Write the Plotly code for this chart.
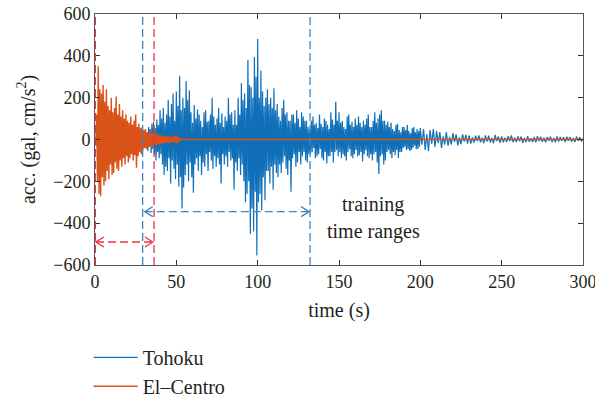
import plotly.graph_objects as go

# ---------------- data ----------------
# Tohoku record in three segments (start time, sample step, signed peak values in gal)
tohoku_a_start, tohoku_a_dt = 0.0, 1.0
tohoku_a_acc = [
    3, -4, 5, -3, 6, -5, 4, -6, 5, -4,
    6, -5, 8, -7, 6, -9, 8, -7, 10, -8,
    12, -10, 14, -12, 18, -15, 20, -22, 25, -20,
]
tohoku_b_start, tohoku_b_dt = 30.0, 0.5
tohoku_b_acc = [
    30, -25, 45, -40, 35, -55, 60, -30, 50, -65, 75, -45, 85, -70, 55, -100, 95, -60, 70, -90,
    140, -70, 100, -120, 150, -170, 80, -130, 120, -150, 190, -90, 110, -210, 170, -100, 220, -140, 90, -190,
    230, -120, 160, -225, 305, -180, 140, -330, 200, -230, 150, -170, 280, -120, 190, -200, 235, -110, 130, -180,
    80, -255, 165, -120, 100, -90, 145, -150, 120, -80, 90, -170, 60, -110, 130, -130, 140, -70, 85, -150,
    90, -60, 120, -100, 200, -140, 110, -80, 70, -130, 100, -90, 150, -120, 80, -210, 125, -70, 60, -120,
    110, -80, 90, -130, 200, -60, 120, -100, 130, -90, 70, -240, 140, -110, 70, -150, 200, -90, 120, -170,
    270, -120, 190, -200, 220, -300, 150, -260, 380, -200, 260, -450, 250, -330, 200, -440, 395, -250, 300, -555,
    480, -300, 200, -260, 330, -340, 230, -180, 160, -290, 200, -150, 240, -150, 170, -210, 200, -130, 150, -240,
    245, -120, 140, -160, 170, -180, 110, -120, 90, -160, 150, -110, 190, -80, 120, -140, 130, -170, 90, -100,
    90, -250, 120, -90, 120, -70, 80, -130, 140, -110, 100, -60, 60, -120, 130, -80, 110, -60, 90, -100,
    90, -110, 60, -70, 50, -70, 90, -60, 110, -40, 70, -90, 80, -80, 55, -70, 120, -45, 75, -90,
    60, -100, 100, -60, 90, -115, 70, -80, 50, -80, 130, -60, 95, -110, 70, -60, 180, -50, 90, -80,
    130, -60, 80, -90, 90, -70, 60, -80, 50, -100, 110, -60, 120, -45, 70, -80, 85, -90, 60, -70,
    100, -50, 70, -80, 110, -75, 80, -60, 60, -105, 90, -70, 70, -50, 100, -80, 120, -90, 60, -70,
    60, -100, 90, -70, 130, -60, 80, -110, 100, -165, 120, -80, 140, -70, 90, -120, 90, -100, 70, -60,
    85, -50, 60, -70, 80, -90, 50, -60, 40, -75, 70, -50, 75, -88, 45, -60, 35, -60, 60, -40,
    60, -35, 45, -50, 70, -45, 40, -55, 30, -50, 55, -40, 60, -30, 35, -45, 50, -45, 40, -35,
]
tohoku_c_start, tohoku_c_dt = 200.0, 1.0
tohoku_c_acc = [
    55, -25, 50, -50, 25, -55, 45, -20, 50, -35,
    40, -18, 35, -40, 15, -25, 35, -30, 12, -25,
    30, -12, 25, -28, 10, -22, 25, -10, 22, -20,
    18, -20, 10, -15, 18, -8, 20, -14, 9, -18,
    20, -10, 18, -14, 8, -18, 22, -8, 14, -16,
    15, -14, 9, -12, 16, -7, 20, -13, 8, -12,
    15, -8, 14, -16, 7, -13, 16, -11, 6, -12,
    12, -14, 16, -7, 13, -11, 8, -13, 12, -6,
    14, -12, 7, -13, 15, -10, 12, -6, 11, -12,
    13, -6, 12, -11, 7, -12, 14, -6, 11, -9,
    5,
]

elcentro_dt = 0.5  # s
elcentro_acc = [
    0, -30, 120, -200, 350, -260, 240, -270, 220, -180,
    260, -220, 180, -200, 240, -150, 160, -190, 140, -120,
    200, -170, 130, -160, 150, -110, 205, -140, 120, -150,
    170, -100, 110, -130, 140, -90, 100, -120, 120, -80,
    90, -110, 80, -90, 110, -70, 70, -100, 90, -75,
    120, -135, 60, -80, 75, -60, 55, -70, 60, -50,
    45, -40, 50, -45, 35, -40, 30, -35, 40, -30,
    30, -35, 35, -25, 25, -30, 28, -22, 20, -25,
    22, -20, 18, -22, 20, -16, 15, -18, 17, -14,
    14, -16, 15, -12, 12, -14, 14, -12, 18, -15,
    20, -18, 12, -10, 8, -6, 4, 0,
]
elcentro_end_time = 300  # record padded with zeros up to here

# training time ranges (s) and arrow heights (gal)
red_range = [0, 36.3]
red_arrow = [0.6, 35.6]
red_arrow_y = -490
blue_range = [29.3, 132.2]
blue_arrow = [30.6, 131.6]
blue_arrow_y = -345

x_ticks = [0, 50, 100, 150, 200, 250, 300]
y_ticks = [-600, -400, -200, 0, 200, 400, 600]
x_range = [0, 300]
y_range = [-600, 600]

# ---------------- figure ----------------
FONT = "Liberation Serif"
TXT = "#231f20"
BLUE = "#0F6FB9"
ORANGE = "#D95319"
RED_DASH = "#EE3340"
BLUE_DASH = "#3A88CC"

tohoku_t, tohoku_y = [], []
for start, dt, acc in ((tohoku_a_start, tohoku_a_dt, tohoku_a_acc),
                       (tohoku_b_start, tohoku_b_dt, tohoku_b_acc),
                       (tohoku_c_start, tohoku_c_dt, tohoku_c_acc)):
    tohoku_t += [start + i * dt for i in range(len(acc))]
    tohoku_y += acc

elcentro_t = [i * elcentro_dt for i in range(len(elcentro_acc))] + [elcentro_end_time]
elcentro_y = elcentro_acc + [0]

fig = go.Figure()
fig.add_trace(go.Scatter(x=tohoku_t, y=tohoku_y, mode="lines", name="Tohoku",
                         line=dict(color=BLUE, width=1.2)))
fig.add_trace(go.Scatter(x=elcentro_t, y=elcentro_y, mode="lines", name="El\u2013Centro",
                         line=dict(color=ORANGE, width=1.4)))

# plot geometry for converting pixel-sized arrowheads to data units
L, R, T, B = 95, 12, 14, 135
W, H = 595, 400
px_x = (x_range[1] - x_range[0]) / (W - L - R)
px_y = (y_range[1] - y_range[0]) / (H - T - B)

shapes = []
for xs, col in ((red_range, RED_DASH), (blue_range, BLUE_DASH)):
    for xv in xs:
        shapes.append(dict(type="line", xref="x", yref="y", x0=xv, x1=xv,
                           y0=y_range[0], y1=y_range[1], layer="above",
                           line=dict(color=col, width=2 if xv == x_range[0] else 1.3,
                                     dash="8px,4px")))

for (xa, xb), yv, col in ((red_arrow, red_arrow_y, RED_DASH), (blue_arrow, blue_arrow_y, BLUE_DASH)):
    shapes.append(dict(type="line", xref="x", yref="y", x0=xa, x1=xb, y0=yv, y1=yv,
                       layer="above", line=dict(color=col, width=1.3, dash="8px,4px")))
    hl, hh = 8 * px_x, 5 * px_y
    shapes.append(dict(type="path", xref="x", yref="y", layer="above",
                       path=f"M{xa + hl},{yv + hh} L{xa},{yv} L{xa + hl},{yv - hh}",
                       line=dict(color=col, width=1.3)))
    shapes.append(dict(type="path", xref="x", yref="y", layer="above",
                       path=f"M{xb - hl},{yv + hh} L{xb},{yv} L{xb - hl},{yv - hh}",
                       line=dict(color=col, width=1.3)))

annotations = [
    dict(x=171, y=-309, xref="x", yref="y", text="training", showarrow=False,
         font=dict(family=FONT, size=20, color=TXT)),
    dict(x=171, y=-442, xref="x", yref="y", text="time ranges", showarrow=False,
         font=dict(family=FONT, size=20, color=TXT)),
]

axis_common = dict(showline=True, linecolor="#555", linewidth=1, mirror="allticks",
                   ticks="inside", ticklen=5, tickcolor="#333", showgrid=False,
                   zeroline=False, ticklabeloverflow="allow",
                   tickfont=dict(family=FONT, size=18, color=TXT))

fig.update_layout(
    width=W, height=H,
    margin=dict(l=L, r=R, t=T, b=B, autoexpand=False),
    paper_bgcolor="white", plot_bgcolor="white",
    shapes=shapes, annotations=annotations,
    xaxis=dict(range=x_range, tickvals=x_ticks,
               title=dict(text="time (s)", font=dict(family=FONT, size=20, color=TXT), standoff=12),
               **axis_common),
    yaxis=dict(range=y_range, tickvals=y_ticks,
               title=dict(text="acc. (gal, cm/s<sup>2</sup>)", font=dict(family=FONT, size=20, color=TXT), standoff=12),
               **axis_common),
    showlegend=True,
    legend=dict(x=-0.013, y=-0.29, xanchor="left", yanchor="top", orientation="v",
                font=dict(family=FONT, size=20, color=TXT), bgcolor="rgba(0,0,0,0)",
                tracegroupgap=0, itemwidth=44),
)

fig.write_html("out.html")
